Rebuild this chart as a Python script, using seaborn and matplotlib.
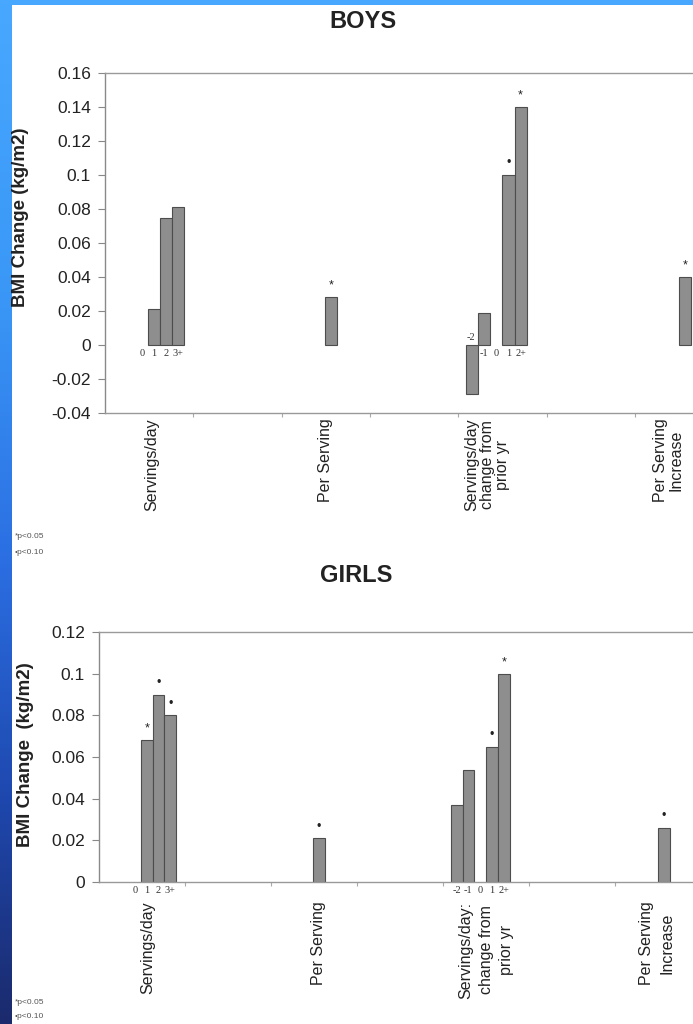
import numpy as np
import pandas as pd
import matplotlib
matplotlib.use('Agg')
import matplotlib.pyplot as plt
from matplotlib.colors import LinearSegmentedColormap
from matplotlib.patches import Rectangle
import seaborn as sns

# values (BMI change, kg/m2)
servings_levels = ['0', '1', '2', '3+']
change_levels = ['-2', '-1', '0', '1', '2+']
group_names = ['Servings/day', 'Per Serving', 'Servings/day change', 'Per Serving Increase']

boys_servings = [0.0, 0.021, 0.075, 0.081]
boys_per_serving = [0.028]
boys_change = [-0.029, 0.019, 0.0, 0.100, 0.140]
boys_increase = [0.040]
boys_sig_servings = ['', '', '', '']
boys_sig_per_serving = ['*']
boys_sig_change = ['', '', '', '\u2022', '*']
boys_sig_increase = ['*']

girls_servings = [0.0, 0.068, 0.090, 0.080]
girls_per_serving = [0.021]
girls_change = [0.037, 0.054, 0.0, 0.065, 0.100]
girls_increase = [0.026]
girls_sig_servings = ['', '*', '\u2022', '\u2022']
girls_sig_per_serving = ['\u2022']
girls_sig_change = ['', '', '', '\u2022', '*']
girls_sig_increase = ['\u2022']

boys_ticklabels = ['Servings/day', 'Per Serving', 'Servings/day\nchange from\nprior yr', 'Per Serving\nIncrease']
girls_ticklabels = ['Servings/day', 'Per Serving', 'Servings/day:\nchange from\nprior yr', 'Per Serving\nIncrease']
boys_yticks = [0.16, 0.14, 0.12, 0.1, 0.08, 0.06, 0.04, 0.02, 0, -0.02, -0.04]
girls_yticks = [0.12, 0.1, 0.08, 0.06, 0.04, 0.02, 0]

# layout (category units, Excel-like: 8 categories, groups sit in 0, 2, 4, 6)
GROUP_START = [0.35, 2.49, 4.09, 6.50]
BAR_W = 0.137


def build_frame(values, sigs, levels):
    rows = []
    for g, (vals, ss, lv) in enumerate(zip(values, sigs, levels)):
        for k, v in enumerate(vals):
            rows.append({'group': group_names[g], 'level': lv[k] if lv else '',
                         'value': v, 'sig': ss[k],
                         'pos': GROUP_START[g] + (k + 0.5) * BAR_W})
    return pd.DataFrame(rows)


sns.set_theme(style='white')
plt.rcParams['font.family'] = ['Liberation Sans', 'DejaVu Sans']

fig = plt.figure(figsize=(6.93, 10.24), dpi=100)

# slide background: blue gradient frame, white panel
bg = fig.add_axes([0, 0, 1, 1], zorder=-10)
bg.set_axis_off()
cmap = LinearSegmentedColormap.from_list('slide', [(0, '#48a8ff'), (0.3, '#3996f6'), (0.55, '#2b6ee2'),
                                                   (0.78, '#1e48ae'), (1, '#1b2a6c')])
bg.imshow(np.linspace(0, 1, 256)[:, None], aspect='auto', cmap=cmap, extent=[0, 1, 0, 1])
bg.add_patch(Rectangle((12 / 693, 0), 1, 1 - 5 / 1024, transform=bg.transAxes,
                       facecolor='white', edgecolor='none'))
bg.set_xlim(0, 1)
bg.set_ylim(0, 1)

panels = [
    dict(title='BOYS', title_xy=(363, 22),
         rect=[105 / 693, 1 - 413 / 1024, 8 * 88.3 / 693, 340 / 1024],
         df=build_frame([boys_servings, boys_per_serving, boys_change, boys_increase],
                        [boys_sig_servings, boys_sig_per_serving, boys_sig_change, boys_sig_increase],
                        [servings_levels, None, change_levels, None]),
         ylim=(-0.04, 0.16), yticks=boys_yticks, ticklabels=boys_ticklabels,
         ticks=[0.53, 2.5, 4.33, 6.38], linespacing=1.05,
         ylabel='BMI Change (kg/m2)', ylabel_xy=(-0.108, 0.575), pad=4,
         notes_y=(537, 552)),
    dict(title='GIRLS', title_xy=(356, 575),
         rect=[99 / 693, 1 - 882 / 1024, 8 * 86 / 693, 250 / 1024],
         df=build_frame([girls_servings, girls_per_serving, girls_change, girls_increase],
                        [girls_sig_servings, girls_sig_per_serving, girls_sig_change, girls_sig_increase],
                        [servings_levels, None, change_levels, None]),
         ylim=(0, 0.12), yticks=girls_yticks, ticklabels=girls_ticklabels,
         ticks=[0.57, 2.55, 4.5, 6.49], linespacing=1.45,
         ylabel='BMI Change  (kg/m2)', ylabel_xy=(-0.095, 0.51), pad=14,
         notes_y=(1003, 1017)),
]

for p in panels:
    ax = fig.add_axes(p['rect'])
    ax.set_facecolor('none')
    df = p['df']
    drawn = df[df['value'] != 0]
    sns.barplot(data=drawn, x='pos', y='value', native_scale=True, orient='x', width=1.0,
                color='#8e8e8e', saturation=1, edgecolor='#4d4d4d', linewidth=0.8, ax=ax)

    # small serif level labels under / above the zero line, significance marks on top
    for _, r in df.iterrows():
        if r['level']:
            if r['value'] < 0:
                ax.annotate(r['level'], (r['pos'], 0), xytext=(-1, 2), textcoords='offset points',
                            ha='center', va='bottom', fontsize=7.5, family='Liberation Serif', color='#333333')
            else:
                ax.annotate(r['level'], (r['pos'], 0), xytext=(0, -3), textcoords='offset points',
                            ha='center', va='top', fontsize=7.5, family='Liberation Serif', color='#333333')
        if r['sig']:
            ax.annotate(r['sig'], (r['pos'], r['value']), xytext=(0, 4), textcoords='offset points',
                        ha='center', va='bottom', fontsize=9 if r['sig'] == '*' else 9, color='#222222')

    ax.set_xlim(0, 8)
    ax.set_ylim(*p['ylim'])
    ax.set_yticks(p['yticks'])
    ax.set_yticklabels(['%g' % v for v in p['yticks']], fontsize=12.5, color='#222222')
    ax.set_xticks(p['ticks'])
    ax.set_xticklabels(p['ticklabels'], rotation=90, fontsize=11.5, color='#222222',
                       va='top', ha='center', multialignment='center', linespacing=p['linespacing'])
    ax.set_xticks(np.arange(1, 8), minor=True)
    ax.tick_params(axis='x', which='major', length=0, pad=p['pad'])
    ax.tick_params(axis='x', which='minor', length=3, color='#aaaaaa', width=0.8, direction='out', bottom=True)
    ax.tick_params(axis='y', length=5, color='#888888', width=0.8, direction='out', left=True, pad=5)
    ax.set_xlabel('')
    ax.set_ylabel(p['ylabel'], fontsize=13.5, fontweight='bold', color='#222222')
    ax.yaxis.set_label_coords(*p['ylabel_xy'])

    ax.spines['left'].set_color('#8a8a8a')
    ax.spines['left'].set_linewidth(1.0)
    ax.spines['top'].set_color('#9a9a9a')
    ax.spines['top'].set_linestyle((0, (3, 1)))
    ax.spines['top'].set_linewidth(1.0)
    ax.spines['bottom'].set_color('#999999')
    ax.spines['bottom'].set_linewidth(1.0)
    ax.spines['right'].set_visible(False)

    fig.text(p['title_xy'][0] / 693, 1 - p['title_xy'][1] / 1024, p['title'], ha='center', va='center',
             fontsize=17, fontweight='bold', color='#222222')
    fig.text(15 / 693, 1 - p['notes_y'][0] / 1024, '*p<0.05', fontsize=6, color='#555555', va='center')
    fig.text(15 / 693, 1 - p['notes_y'][1] / 1024, '\u2022p<0.10', fontsize=6, color='#555555', va='center')

fig.savefig('out.png', dpi=100)
